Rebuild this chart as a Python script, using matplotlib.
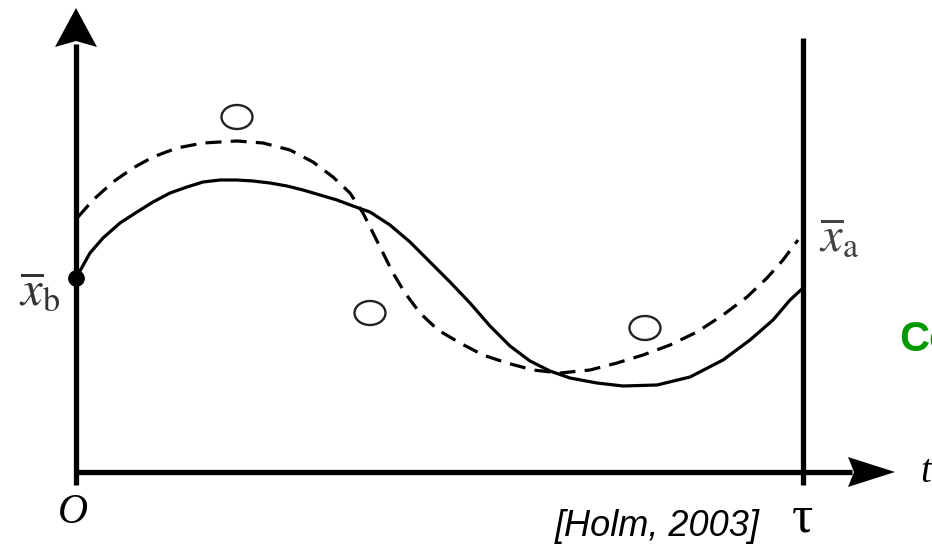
import matplotlib.pyplot as plt
from matplotlib.patches import Ellipse

plt.rcParams['mathtext.fontset'] = 'stix'

# units: one unit = one pixel, origin at the axes corner (t = 0, x = 0)
tau = 727

# background trajectory (solid)
bg_t = [0, 14, 27, 44, 61, 77, 94, 111, 127, 144, 161, 177, 194, 211, 227,
        244, 261, 277, 294, 314, 334, 354, 374, 394, 414, 434, 454, 474, 494,
        521, 547, 581, 614, 647, 674, 697, 714, 727]
bg_x = [194, 219, 234, 249, 260, 270, 279, 285, 290, 292, 292, 291, 289, 286,
        282, 277, 272, 266, 260, 247, 230, 210, 190, 169, 146, 126, 111, 101,
        94, 89, 86, 87, 95, 112, 132, 152, 172, 184]

# analysis trajectory (dashed)
an_t = [2, 17, 37, 57, 77, 101, 127, 161, 187, 214, 237, 257, 274, 287, 297,
        307, 317, 329, 344, 362, 384, 407, 431, 457, 484, 514, 541, 567, 594,
        621, 647, 671, 691, 707, 722]
an_x = [255, 272, 290, 304, 315, 324, 329, 331, 329, 322, 310, 295, 279, 259,
        239, 219, 199, 179, 159, 142, 129, 117, 109, 102, 99, 102, 109, 117,
        127, 140, 157, 175, 194, 212, 232]

# observations
obs_t = [161, 294, 569]
obs_x = [355, 159, 144]

fig = plt.figure(figsize=(9.32, 5.46), dpi=100)
ax = fig.add_axes([0, 0, 1, 1])
ax.set_xlim(-76, 856)
ax.set_ylim(-74, 472)
ax.axis('off')

# axes with arrow heads
ax.plot([0, 0], [-13, 428], color='black', lw=3.8, solid_capstyle='butt')
ax.fill([0, -21, 0, 21], [464, 425, 431, 425], color='black', lw=0)
ax.plot([0, 776], [0, 0], color='black', lw=3.8, solid_capstyle='butt')
ax.fill([819, 772, 778, 772], [0, 15, 0, -15], color='black', lw=0)
ax.plot([tau, tau], [-13, 434], color='black', lw=3.8, solid_capstyle='butt')

ax.plot(bg_t, bg_x, color='black', lw=2.3, solid_joinstyle='round')
line, = ax.plot(an_t, an_x, color='black', lw=2.3, dash_joinstyle='round')
line.set_dashes((5.0, 2.9))
ax.plot([bg_t[0]], [bg_x[0]], 'o', color='black', ms=11)

for t, x in zip(obs_t, obs_x):
    ax.add_patch(Ellipse((t, x), 31, 24, fill=False, ec='#222222', lw=1.7))

ax.text(-15, 182, r'$\overline{x}_{\mathrm{b}}$', fontsize=35, color='#333333',
        ha='right', va='center')
ax.text(743, 236, r'$\overline{x}_{\mathrm{a}}$', fontsize=35, color='#444444',
        ha='left', va='center')
ax.text(-3, -41, 'O', fontsize=30, family='Liberation Serif', style='italic',
        ha='center', va='center')
ax.text(726, -47, 'τ', fontsize=38, family='Liberation Serif',
        ha='center', va='center')
ax.text(844, 0, 't', fontsize=28, family='Liberation Serif', style='italic',
        ha='left', va='center')
ax.text(581, -54, '[Holm, 2003]', fontsize=26, family='Liberation Sans',
        style='italic', ha='center', va='center')
ax.text(823, 132, 'Co', fontsize=30, family='Liberation Sans', weight='bold',
        color='#009900', ha='left', va='center')

fig.savefig('out.png', dpi=100)
